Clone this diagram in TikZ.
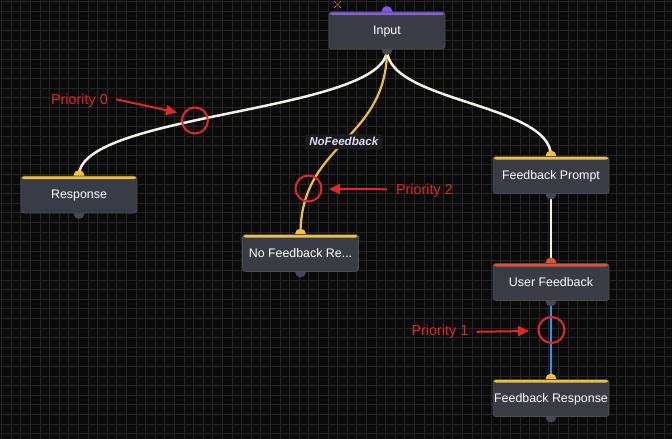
\documentclass[tikz,border=0pt]{standalone}
\usepackage{fontspec}
\setmainfont{Liberation Sans}
\usetikzlibrary{arrows.meta}
\definecolor{bgc}{HTML}{0A0A0A}
\definecolor{gridc}{HTML}{242424}
\definecolor{nodefill}{HTML}{393C45}
\definecolor{nodeborder}{HTML}{4A4D56}
\definecolor{handlec}{HTML}{454851}
\definecolor{yel}{HTML}{F2C037}
\definecolor{purp}{HTML}{7E5BE0}
\definecolor{orng}{HTML}{E0502C}
\definecolor{bluec}{HTML}{3A8FE3}
\definecolor{edgew}{HTML}{F4F1E8}
\definecolor{redc}{HTML}{E4252B}
\definecolor{labbg}{HTML}{1B1B1E}
\definecolor{labtext}{HTML}{DCDDF0}
\pgfdeclarelayer{gridlayer}
\pgfdeclarelayer{edgelayer}
\pgfsetlayers{gridlayer,edgelayer,main}
\tikzset{
  flownode/.style={rectangle, rounded corners=3pt, fill=nodefill, draw=nodeborder,
    line width=0.8pt, minimum width=116pt, minimum height=37pt, inner sep=0pt,
    text height=8.9pt, text depth=0pt,
    text=white, font=\fontsize{12.4}{14}\selectfont},
  bar/.style={path picture={\fill[#1] (path picture bounding box.north west)
    rectangle ([yshift=-3pt]path picture bounding box.north east);}},
  wire/.style={line width=2.5pt, line cap=round},
  ring/.style={circle, draw=redc, line width=2pt, minimum size=26pt, inner sep=0pt},
  prio/.style={text=redc, inner sep=0pt, anchor=base, font=\fontsize{14.4}{16}\selectfont},
  redarrow/.style={draw=redc, line width=2pt, -{Triangle[length=11pt,width=10pt]}},
  elabel/.style={fill=labbg, rounded corners=2pt, text=labtext, inner xsep=4pt, inner ysep=3pt,
    font=\fontsize{11.6}{13}\selectfont\bfseries\itshape}
}
\begin{document}
\begin{tikzpicture}[x=1pt,y=-1pt]
\useasboundingbox (0,0) rectangle (672,439);
\begin{pgfonlayer}{gridlayer}
  \fill[bgc] (0,0) rectangle (672,439);
  \foreach \i in {0,...,70} {
    \draw[gridc, line width=1pt] ({1.7+9.6*\i},0) -- ({1.7+9.6*\i},439);
  }
  \foreach \i in {0,...,46} {
    \draw[gridc, line width=1pt] (0,{1.7+9.6*\i}) -- (672,{1.7+9.6*\i});
  }
\end{pgfonlayer}

% nodes
\node[flownode, bar=purp] (inp) at (387,30.5) {Input};
\node[flownode, bar=yel] (resp) at (79,194.5) {Response};
\node[flownode, bar=yel] (nofb) at (300.5,253) {No Feedback Re...};
\node[flownode, bar=yel] (fbp) at (551,175) {Feedback Prompt};
\node[flownode, bar=orng] (ufb) at (551,282) {User Feedback};
\node[flownode, bar=yel] (fbr) at (551,398) {Feedback Response};

\begin{pgfonlayer}{edgelayer}
  \draw[wire, edgew] (inp.south) .. controls +(0,63) and +(0,-63) .. (resp.north);
  \draw[wire, yel, line width=2.2pt] (inp.south) .. controls +(0,92) and +(0,-92) .. (nofb.north)
    coordinate[pos=0.5] (labpos);
  \draw[wire, edgew] (inp.south) .. controls +(0,53) and +(0,-53) .. (fbp.north);
  \draw[wire, edgew] (fbp.south) -- (ufb.north);
  \draw[wire, bluec] (ufb.south) -- (fbr.north);
  % handles
  \fill[purp] (inp.north) circle (5.5pt);
  \foreach \n in {resp,nofb,fbp,fbr} { \fill[yel] (\n.north) circle (5.5pt); }
  \fill[orng] (ufb.north) circle (5.5pt);
  \foreach \n in {inp,resp,nofb,fbp,ufb,fbr} { \fill[handlec] (\n.south) circle (5.5pt); }
\end{pgfonlayer}
\node[elabel] (lab) at (labpos) {NoFeedback};

% small marker above Input
\draw[redc!70!white, line width=0.8pt, densely dotted] (334,1) -- (341,8) (341,1) -- (334,8);

% annotations
\node[ring] (c0) at (195,120.5) {};
\node[ring] (c2) at (308.5,188.5) {};
\node[ring] (c1) at (551.5,330) {};
\node[prio] (p0) at (79.5,104) {Priority 0};
\node[prio] (p2) at (424.5,194) {Priority 2};
\node[prio] (p1) at (440,335.5) {Priority 1};
\coordinate (a0) at (177,112.5);
\coordinate (a2) at (329,189);
\coordinate (a1) at (529,331);
\draw[redarrow] ([xshift=8pt,yshift=1pt]p0.east) -- (a0);
\draw[redarrow] ([xshift=-9pt,yshift=1pt]p2.west) -- (a2);
\draw[redarrow] ([xshift=8pt]p1.east) -- (a1);
\end{tikzpicture}
\end{document}
